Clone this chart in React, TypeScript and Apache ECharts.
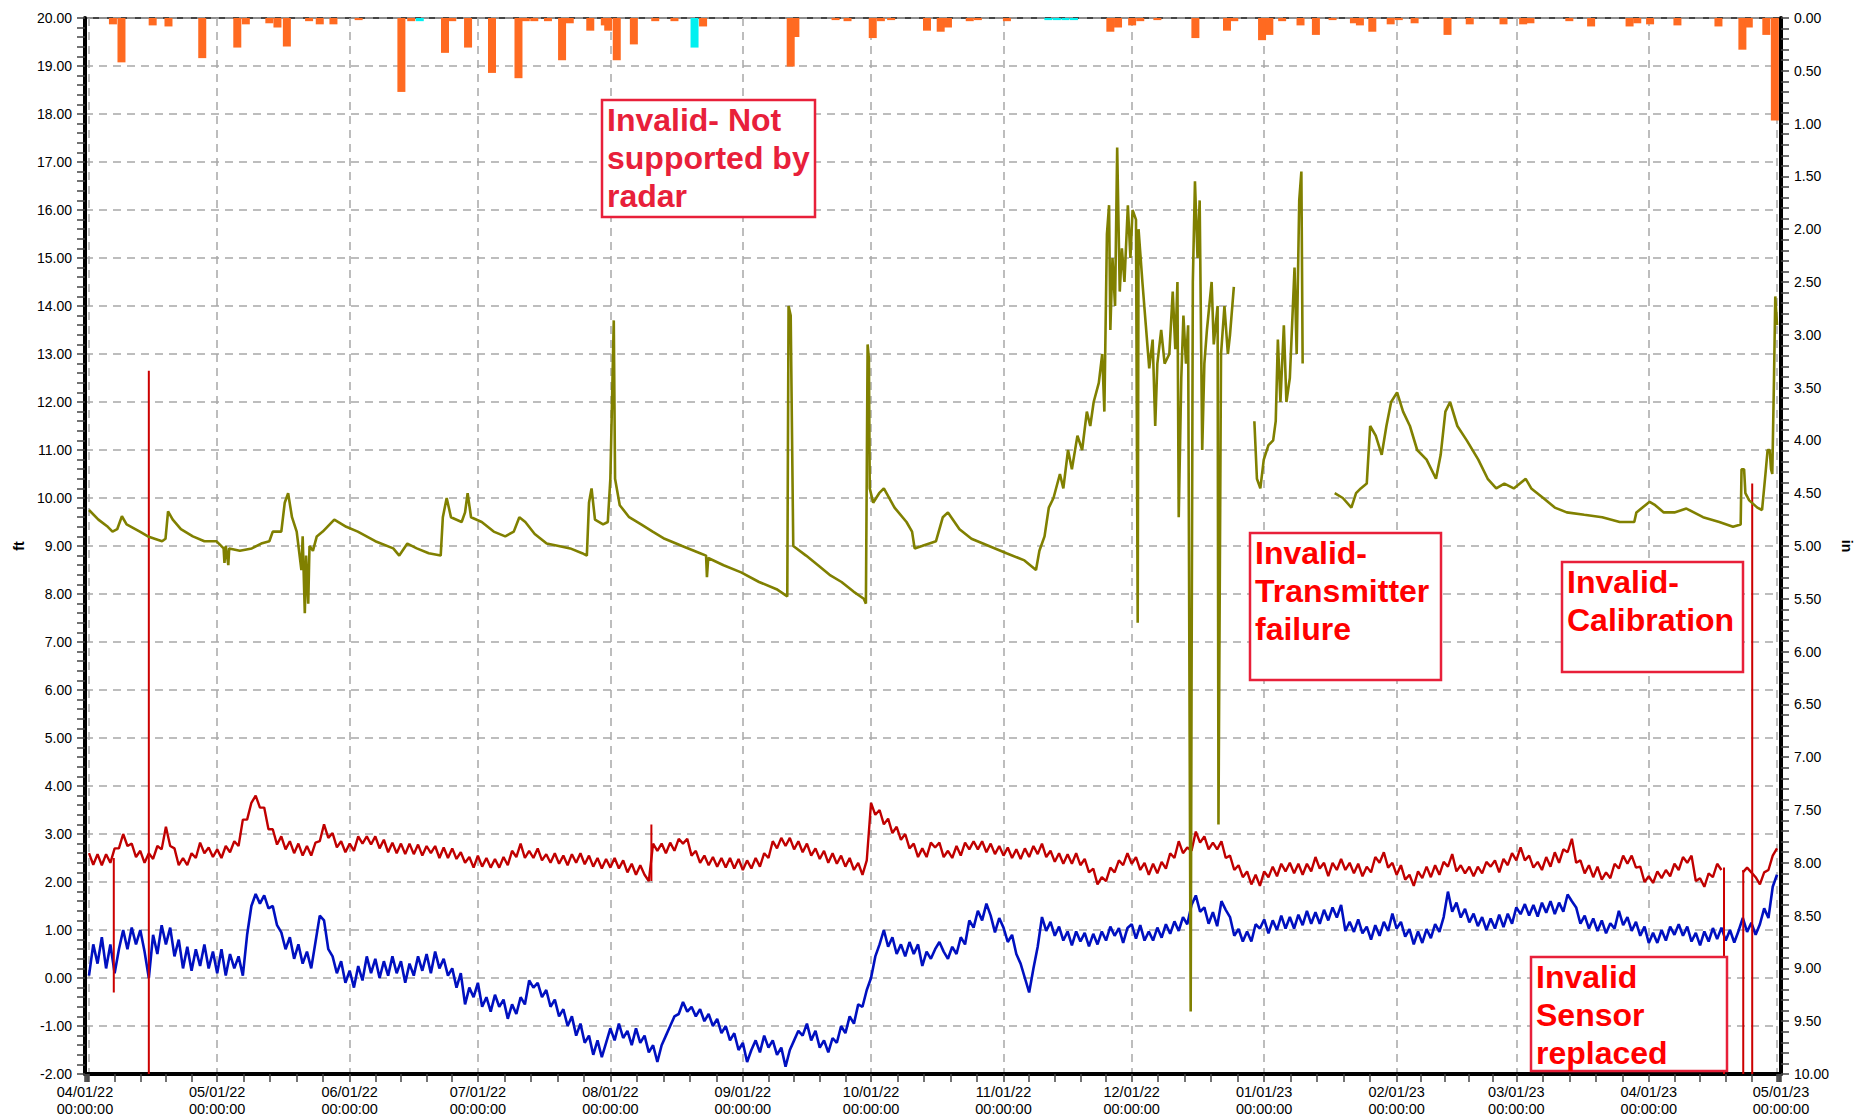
import React, { useEffect, useRef } from "react";
import * as echarts from "echarts";

const START = new Date(2022, 3, 1).getTime();
const END = new Date(2023, 4, 1).getTime();
const DAY = 86400000;
const FONT = "'Liberation Sans', Arial, Helvetica, sans-serif";

const xTickLabels = [
  "04/01/22", "05/01/22", "06/01/22", "07/01/22", "08/01/22", "09/01/22", "10/01/22",
  "11/01/22", "12/01/22", "01/01/23", "02/01/23", "03/01/23", "04/01/23", "05/01/23",
];
const xTickTime = "00:00:00";

// daily values from 04/01/22 (day 0) to 05/01/23 (day 395), ft
const redDaily: (number | null)[] = [
  2.6, 2.36, 2.58, 2.35, 2.58, 2.4, 2.7, 2.7, 3.0, 2.75,
  2.8, 2.52, 2.65, 2.4, 2.6, 2.48, 2.75, 2.68, 3.15, 2.75,
  2.7, 2.35, 2.5, 2.35, 2.6, 2.5, 2.82, 2.6, 2.72, 2.52,
  2.68, 2.5, 2.75, 2.62, 2.85, 2.75, 3.3, 3.3, 3.65, 3.8,
  3.55, 3.55, 3.1, 3.1, 2.78, 2.95, 2.68, 2.85, 2.6, 2.8,
  2.55, 2.75, 2.55, 2.82, 2.85, 3.2, 2.92, 3.02, 2.72, 2.85,
  2.62, 2.8, 2.65, 2.95, 2.8, 2.95, 2.78, 2.95, 2.7, 2.88,
  2.62, 2.82, 2.6, 2.8, 2.58, 2.8, 2.58, 2.78, 2.55, 2.75,
  2.6, 2.75, 2.5, 2.72, 2.5, 2.7, 2.48, 2.62, 2.4, 2.52,
  2.3, 2.55, 2.32, 2.5, 2.3, 2.48, 2.3, 2.52, 2.35, 2.65,
  2.52, 2.8, 2.5, 2.65, 2.5, 2.7, 2.45, 2.58, 2.4, 2.6,
  2.38, 2.55, 2.35, 2.58, 2.4, 2.6, 2.37, 2.55, 2.32, 2.5,
  2.28, 2.48, 2.3, 2.5, 2.28, 2.45, 2.2, 2.38, 2.15, 2.35,
  2.15, 2.02, 2.8, 2.65, 2.8, 2.6, 2.82, 2.65, 2.9, 2.8,
  2.9, 2.55, 2.65, 2.4, 2.55, 2.35, 2.52, 2.32, 2.5, 2.3,
  2.5, 2.28, 2.48, 2.25, 2.45, 2.28, 2.5, 2.32, 2.6, 2.5,
  2.85, 2.7, 2.92, 2.75, 2.92, 2.68, 2.85, 2.62, 2.8, 2.55,
  2.7, 2.48, 2.65, 2.4, 2.6, 2.38, 2.55, 2.32, 2.5, 2.25,
  2.4, 2.15, 2.45, 3.65, 3.4, 3.5, 3.2, 3.32, 3.02, 3.15,
  2.88, 3.0, 2.7, 2.8, 2.52, 2.7, 2.52, 2.82, 2.72, 2.82,
  2.52, 2.65, 2.5, 2.75, 2.55, 2.82, 2.68, 2.85, 2.68, 2.85,
  2.62, 2.8, 2.58, 2.75, 2.55, 2.72, 2.5, 2.68, 2.48, 2.7,
  2.52, 2.75, 2.58, 2.8, 2.52, 2.65, 2.42, 2.6, 2.38, 2.58,
  2.38, 2.6, 2.35, 2.48, 2.2, 2.28, 1.95, 2.1, 2.02, 2.3,
  2.2, 2.45, 2.35, 2.6, 2.38, 2.52, 2.25, 2.4, 2.15, 2.38,
  2.18, 2.42, 2.28, 2.6, 2.5, 2.85, 2.6, 2.72, 2.65, 3.05,
  2.82, 2.95, 2.68, 2.82, 2.68, 2.85, 2.5, 2.55, 2.25, 2.35,
  2.1, 2.22, 1.95, 2.15, 1.92, 2.22, 2.1, 2.32, 2.12, 2.38,
  2.22, 2.4, 2.18, 2.38, 2.15, 2.38, 2.22, 2.52, 2.28, 2.4,
  2.12, 2.4, 2.25, 2.48, 2.25, 2.4, 2.18, 2.38, 2.12, 2.32,
  2.2, 2.52, 2.4, 2.62, 2.3, 2.4, 2.15, 2.35, 2.05, 2.15,
  1.92, 2.22, 2.08, 2.32, 2.1, 2.35, 2.15, 2.42, 2.32, 2.58,
  2.22, 2.35, 2.18, 2.32, 2.12, 2.32, 2.18, 2.42, 2.32, 2.45,
  2.2, 2.48, 2.35, 2.6, 2.45, 2.72, 2.45, 2.55, 2.3, 2.42,
  2.25, 2.52, 2.32, 2.62, 2.4, 2.68, 2.62, 2.9, 2.4, 2.45,
  2.18, 2.35, 2.1, 2.32, 2.05, 2.2, 2.08, 2.38, 2.28, 2.55,
  2.38, 2.55, 2.3, 2.32, 2.0, 2.12, 1.98, 2.22, 2.08, 2.25,
  2.12, 2.38, 2.25, 2.52, 2.4, 2.55, 2.02, 2.08, 1.9, 2.18,
  2.1, 2.38, 2.25, null, null, null, null, 2.2, 2.3, 2.2,
  2.1, 1.95, 2.2, 2.25, 2.55, 2.7,
];

const blueDaily: number[] = [
  0.05, 0.7, 0.3, 0.85, 0.2, 0.7, 0.1, 0.6, 1.0, 0.6,
  1.05, 0.7, 1.0, 0.55, 0.0, 0.9, 0.5, 1.1, 0.7, 1.05,
  0.45, 0.8, 0.2, 0.65, 0.15, 0.6, 0.25, 0.7, 0.2, 0.55,
  0.1, 0.6, 0.05, 0.5, 0.2, 0.45, 0.05, 0.9, 1.5, 1.75,
  1.55, 1.72, 1.45, 1.5, 1.1, 0.95, 0.6, 0.85, 0.4, 0.7,
  0.3, 0.55, 0.2, 0.75, 1.3, 1.2, 0.6, 0.45, 0.1, 0.35,
  -0.1, 0.15, -0.2, 0.25, -0.05, 0.45, 0.1, 0.4, 0.0, 0.35,
  0.05, 0.45, 0.1, 0.35, -0.1, 0.3, 0.05, 0.45, 0.15, 0.5,
  0.1, 0.55, 0.2, 0.4, 0.05, 0.2, -0.2, 0.1, -0.55, -0.2,
  -0.4, -0.1, -0.6, -0.4, -0.7, -0.35, -0.6, -0.45, -0.85, -0.55,
  -0.75, -0.4, -0.55, -0.05, -0.2, -0.1, -0.4, -0.25, -0.6, -0.45,
  -0.8, -0.65, -1.0, -0.8, -1.2, -0.95, -1.35, -1.2, -1.6, -1.3,
  -1.65, -1.35, -1.05, -1.3, -0.95, -1.25, -1.1, -1.4, -1.05, -1.35,
  -1.2, -1.55, -1.4, -1.75, -1.4, -1.2, -1.0, -0.8, -0.75, -0.5,
  -0.7, -0.6, -0.8, -0.65, -0.9, -0.75, -1.0, -0.85, -1.15, -1.0,
  -1.3, -1.15, -1.5, -1.35, -1.75, -1.5, -1.3, -1.55, -1.2, -1.45,
  -1.3, -1.6, -1.45, -1.85, -1.5, -1.3, -1.1, -1.2, -0.95, -1.3,
  -1.1, -1.45, -1.3, -1.55, -1.25, -1.35, -1.0, -1.15, -0.8, -0.95,
  -0.55, -0.6, -0.25, 0.0, 0.45, 0.7, 1.0, 0.65, 0.85, 0.5,
  0.7, 0.45, 0.75, 0.5, 0.7, 0.25, 0.55, 0.4, 0.6, 0.75,
  0.55, 0.4, 0.65, 0.5, 0.85, 0.7, 1.2, 1.05, 1.4, 1.2,
  1.55, 1.3, 0.95, 1.25, 1.05, 0.75, 0.9, 0.5, 0.3, 0.0,
  -0.3, 0.2, 0.65, 1.27, 0.98, 1.17, 0.88, 1.07, 0.78, 0.97,
  0.68, 0.97, 0.76, 0.94, 0.66, 0.92, 0.7, 0.97, 0.78, 1.07,
  0.88, 1.04, 0.73, 1.04, 1.12, 0.82, 1.1, 0.78, 0.97, 0.78,
  1.05, 0.84, 1.12, 0.92, 1.18, 0.98, 1.27, 1.12, 1.52, 1.72,
  1.38, 1.47, 1.13, 1.37, 1.08, 1.6, 1.42, 1.27, 0.88, 1.02,
  0.76, 0.97, 0.76, 1.12, 1.03, 1.22, 0.93, 1.2, 1.0, 1.3,
  1.03, 1.27, 1.03, 1.32, 1.1, 1.4, 1.13, 1.37, 1.13, 1.42,
  1.2, 1.47, 1.26, 1.52, 0.98, 1.17, 0.96, 1.22, 0.93, 1.07,
  0.8, 1.1, 0.88, 1.17, 0.98, 1.34, 1.03, 1.17, 0.86, 1.02,
  0.7, 0.97, 0.73, 1.02, 0.83, 1.12, 0.96, 1.27, 1.8, 1.38,
  1.57, 1.26, 1.44, 1.16, 1.34, 1.08, 1.27, 1.0, 1.24, 1.03,
  1.32, 1.06, 1.34, 1.13, 1.47, 1.33, 1.54, 1.3, 1.52, 1.28,
  1.57, 1.36, 1.6, 1.33, 1.57, 1.38, 1.74, 1.6, 1.47, 1.13,
  1.3, 1.03, 1.24, 0.98, 1.2, 0.93, 1.14, 1.03, 1.4, 1.1,
  1.27, 0.98, 1.17, 0.88, 1.07, 0.73, 0.94, 0.73, 1.0, 0.78,
  1.07, 0.9, 1.12, 0.88, 1.07, 0.76, 0.94, 0.68, 0.97, 0.76,
  1.04, 0.81, 1.05, 0.78, 1.0, 0.74, 0.98, 1.25, 0.96, 1.15,
  0.9, 1.12, 1.45, 1.25, 1.9, 2.15,
];

// vertical jumps of the red record: day, from, to (ft)
const redSpikeDays = [5.8, 14.0, 131.6, 382.6, 387.1, 389.2];
const redSpikeFrom = [2.5, 12.65, 2.02, 2.3, -2, 10.3];
const redSpikeTo = [-0.3, -2, 3.2, -2, 2.25, -2];

// olive record (day, ft); null = gap
const oliveDays = [
  0, 2.2, 4.4, 5.5, 6.6, 7.7, 8.8, 11.9, 13.8, 17.1, 17.9, 18.5, 19.6, 21.5, 24.3, 27, 29.8,
  31.5, 31.7, 32, 32.6, 32.8, 35.3, 38.1, 40.3, 42.2, 43, 45, 45.8, 46.6, 47.5, 48.6, 49.7,
  50, 50.5, 50.8, 51.3, 51.6, 52.4, 53.3, 54.7, 57.4, 60.2, 62.9, 67, 71.2, 72.6, 74.5, 76.7,
  79.5, 82.3, 82.8, 83.7, 84.7, 87.2, 88, 88.6, 89.4, 91.9, 94.7, 97.4, 99.4, 100.7, 102.1,
  104.3, 107.1, 109.9, 112.6, 115.4, 116.5, 117, 117.6, 118.4, 120.3, 121.4, 122, 122.8,
  123.1, 124.2, 126.4, 129.2, 131.9, 134.7, 138.8, 143, 144.4, 144.6, 144.9, 148.5, 152.6,
  156.8, 160.9, 163.4, 163.7, 164.2, 164.8, 167.8, 170.6, 173.3, 176.1, 178.9, 181.3, 181.8,
  182.2, 182.5, 182.7, 183.5, 184.9, 186, 188.5, 191.3, 192.6, 193.2, 194.9, 198.2, 199.8,
  201, 203.7, 206.5, 210.6, 214.7, 218.9, 221.6, 222.4, 223.6, 224.6, 225.7, 227.2, 228,
  229.1, 230, 231.3, 232.4, 233.5, 234.3, 235.1, 236.3, 237.1, 237.6, 238.2, 238.7, 239,
  239.5, 240.1, 240.6, 241.2, 241.7, 242.3, 243.1, 243.7, 244.2, 245, 245.4, 245.6, 246.5,
  247.3, 248.1, 248.9, 249.5, 250, 250.9, 251.7, 252.8, 253.6, 254.2, 254.7, 255, 255.6,
  256.1, 256.7, 257.2, 257.8, 258, 258.3, 258.8, 259.4, 259.9, 260.5, 261, 261.6, 262.7,
  263.2, 264.1, 264.3, 264.9, 265.7, 266.5, 267, 267.9, 268.2,
  272.7, 273.3, 274.1, 274.9, 276, 277.1, 277.7, 278.2, 278.8, 279.6, 280.2, 281, 282.1,
  282.6, 283.2, 283.7, 284, 284.3,
  291.5, 293.4, 295.4, 296.5, 297.6, 299, 299.8, 301.1, 302.5, 303.6, 304.7, 306.1, 307.5,
  309.1, 310.8, 313, 315.2, 316.3, 317.4, 318.5, 320.2, 322.4, 325.1, 327.3, 329.3, 331.2,
  333.4, 336.2, 337.5, 340.3, 343, 345.8, 349.9, 354.1, 358.2, 361.6, 362.1, 365.2, 366.5,
  368.5, 371, 373.8, 377.7, 381.5, 384.7, 386.5, 386.7, 387.3, 387.6, 388.5, 390.4, 391.5,
  392.3, 392.8, 393.3, 393.6, 393.9, 394.3, 394.6, 395,
];
const oliveValues: (number | null)[] = [
  9.75, 9.55, 9.4, 9.3, 9.35, 9.62, 9.45, 9.3, 9.2, 9.1, 9.15, 9.72, 9.55, 9.35, 9.2, 9.1, 9.1,
  8.95, 8.65, 9.0, 8.6, 8.95, 8.9, 8.95, 9.05, 9.1, 9.3, 9.3, 9.9, 10.1, 9.6, 9.3, 8.5,
  9.2, 7.6, 8.8, 7.8, 9.0, 8.9, 9.2, 9.3, 9.55, 9.4, 9.3, 9.1, 8.95, 8.8, 9.05, 8.95,
  8.85, 8.8, 9.6, 10.0, 9.6, 9.5, 9.7, 10.1, 9.6, 9.5, 9.3, 9.2, 9.3, 9.6, 9.5,
  9.25, 9.05, 9.0, 8.95, 8.85, 8.8, 9.9, 10.2, 9.55, 9.45, 9.5, 10.4, 13.7,
  10.4, 9.85, 9.6, 9.45, 9.3, 9.15, 9.0, 8.85, 8.8, 8.35, 8.75, 8.6, 8.45,
  8.25, 8.1, 7.95, 14.0, 13.8, 9.0, 8.8, 8.6, 8.4, 8.25, 8.05, 7.9, 7.8,
  13.2, 12.9, 10.2, 9.9, 10.1, 10.2, 9.8, 9.5, 9.3, 8.95, 9.0, 9.1, 9.6,
  9.7, 9.35, 9.15, 9.0, 8.85, 8.7, 8.5, 8.9, 9.2, 9.8, 10.0, 10.5, 10.2,
  11.0, 10.6, 11.3, 11.0, 11.8, 11.5, 12.0, 12.4, 13.0, 11.8, 15.5, 16.1, 13.5,
  15.0, 14.0, 17.3, 14.3, 15.2, 14.5, 16.1, 15.0, 16.0, 15.8, 7.4, 15.6, 14.5,
  13.6, 12.7, 13.3, 11.5, 12.8, 13.5, 12.8, 13.0, 14.3, 13.1, 14.5, 9.6, 12.5,
  13.8, 12.8, 13.6, -0.7, 6.0, 14.5, 16.6, 15.0, 16.2, 11.0, 12.8, 13.5, 14.5,
  13.2, 14.0, 3.2, 13.0, 14.0, 13.0, 13.4, 14.4, null,
  11.6, 10.4, 10.2, 10.8, 11.1, 11.2, 11.6, 13.3, 12.0, 13.6, 12.0, 12.5, 14.8,
  13.0, 16.2, 16.8, 12.8, null,
  10.1, 10.0, 9.8, 10.1, 10.2, 10.3, 11.5, 11.3, 10.9, 11.5, 12.0, 12.2, 11.8,
  11.5, 11.0, 10.8, 10.4, 10.9, 11.8, 12.0, 11.5, 11.2, 10.8, 10.4, 10.2, 10.3,
  10.2, 10.4, 10.2, 10.0, 9.8, 9.7, 9.65, 9.6, 9.5, 9.5, 9.7, 9.92, 9.85,
  9.7, 9.7, 9.78, 9.6, 9.5, 9.4, 9.45, 10.6, 10.6, 10.1, 9.95, 9.8, 9.75,
  10.5, 11.0, 11.0, 10.6, 10.5, 12.5, 14.2, 13.6,
];

// precipitation (in), bar centre day
const rainDays = [
  5.6, 7.6, 14.9, 18.6, 26.5, 34.7, 36.7, 42.2, 44.1, 46.3, 51.5, 54, 57.2, 63.1, 73.1, 75.4,
  83.3, 85, 88.7, 94.3, 100.5, 102.2, 104.2, 107.4, 110.7, 112.5, 117.3, 120.7, 121.5, 123.5,
  127.5, 132.5, 137, 143.7, 164.2, 165.3, 174.7, 177.5, 183.4, 185.3, 187.7, 196.1, 199.3,
  201, 206.1, 208, 214.8, 239, 240.8, 244.1, 246, 250, 258.9, 266.3, 268, 274.5, 276.2,
  279.2, 283.5, 287.1, 291, 296, 297.4, 300.3, 304.6, 306.5, 310.2, 317.9, 323.1, 331,
  335.6, 337.3, 346.4, 351.5, 360.5, 362.3, 365.3, 371.7, 381.3, 386.9, 388.4, 392.5, 394.5,
];
const rainInches = [
  0.06, 0.42, 0.07, 0.08, 0.38, 0.28, 0.06, 0.05, 0.09, 0.27, 0.03, 0.06, 0.06, 0.02, 0.7, 0.03,
  0.33, 0.03, 0.28, 0.52, 0.57, 0.03, 0.03, 0.03, 0.4, 0.05, 0.12, 0.07, 0.12, 0.4,
  0.25, 0.03, 0.03, 0.08, 0.46, 0.18, 0.02, 0.03, 0.19, 0.03, 0.02, 0.12, 0.13,
  0.09, 0.03, 0.02, 0.03, 0.13, 0.09, 0.07, 0.03, 0.02, 0.19, 0.12, 0.03, 0.21, 0.16,
  0.03, 0.07, 0.16, 0.02, 0.05, 0.07, 0.13, 0.06, 0.02, 0.05, 0.16, 0.06, 0.06,
  0.06, 0.05, 0.03, 0.08, 0.08, 0.05, 0.06, 0.07, 0.08, 0.3, 0.09, 0.16, 0.97,
];
const cyanDays = [77.4, 141.7, 224.5, 226.5, 228.5, 230.5];
const cyanInches = [0.03, 0.28, 0.02, 0.02, 0.02, 0.02];

const annotations = [
  { lines: ["Invalid- Not", "supported by", "radar"], x: 602, y: 100, w: 213, h: 117, color: "#e8203a" },
  { lines: ["Invalid-", "Transmitter", "failure"], x: 1250, y: 533, w: 191, h: 147, color: "#ff0000" },
  { lines: ["Invalid-", "Calibration"], x: 1562, y: 562, w: 181, h: 110, color: "#ff0000" },
  { lines: ["Invalid", "Sensor", "replaced"], x: 1531, y: 957, w: 196, h: 114, color: "#ff0000" },
];

const t = (d: number) => START + d * DAY;

function xLabel(v: any) {
  let n = typeof v === "number" ? v : new Date(v).getTime();
  if (!isFinite(n)) n = START;
  n = Math.min(Math.max(n, START), END);
  const d = new Date(n + 12 * 3600 * 1000);
  const idx = (d.getFullYear() - 2022) * 12 + d.getMonth() - 3;
  const lab = xTickLabels[Math.max(0, Math.min(xTickLabels.length - 1, idx))];
  return lab + "\n" + xTickTime;
}

export default function App() {
  const ref = useRef<HTMLDivElement>(null);
  useEffect(() => {
    if (!ref.current) return;
    const chart = echarts.init(ref.current, null, { renderer: "svg" });

    const redData = redDaily.map((v, i) => [t(i), v]);
    const blueData = blueDaily.map((v, i) => [t(i), v]);
    const oliveData = oliveDays.map((d, i) => [t(d), oliveValues[i]]);
    const spikeData: any[] = [];
    redSpikeDays.forEach((d, i) => {
      spikeData.push([t(d), redSpikeFrom[i]], [t(d), redSpikeTo[i]], [t(d), null]);
    });
    const rainData = rainDays.map((d, i) => [t(d), rainInches[i]]);
    const cyanData = cyanDays.map((d, i) => [t(d), cyanInches[i]]);

    const tickStyle = { color: "#444", width: 1.5 };
    const gridLine = { show: true, lineStyle: { color: "#a8a8a8", type: [8, 6] as any, width: 1.5 } };

    const graphic: any[] = [];
    annotations.forEach((a) => {
      graphic.push({
        type: "rect", z: 100,
        shape: { x: a.x, y: a.y, width: a.w, height: a.h },
        style: { fill: "#ffffff", stroke: "#e8203a", lineWidth: 2.5 },
      });
      graphic.push({
        type: "text", z: 101, x: a.x + 5, y: a.y + 1,
        style: {
          text: a.lines.join("\n"), fill: a.color,
          font: `bold 32px ${FONT}`, lineHeight: 38,
          textVerticalAlign: "top", verticalAlign: "top",
        },
      });
    });

    chart.setOption({
      animation: false,
      backgroundColor: "#ffffff",
      textStyle: { fontFamily: FONT },
      grid: {
        left: 85, right: 77, top: 18, bottom: 43,
        show: true, borderColor: "#444", borderWidth: 2, backgroundColor: "transparent",
        outerBoundsMode: "none",
      },
      xAxis: {
        type: "time", min: START, max: END, splitNumber: 13,
        axisLine: { show: true, onZero: false, lineStyle: { color: "#000", width: 4 } },
        axisTick: { show: true, length: 8, lineStyle: tickStyle },
        minorTick: { show: true, splitNumber: 5, length: 8, lineStyle: tickStyle },
        splitLine: gridLine,
        axisLabel: {
          formatter: xLabel, fontSize: 14.5, color: "#000", lineHeight: 17, margin: 9,
          showMinLabel: true, showMaxLabel: true, hideOverlap: false, fontFamily: FONT,
        },
      },
      yAxis: [
        {
          type: "value", min: -2, max: 20, interval: 1,
          name: "ft", nameLocation: "middle", nameGap: 59,
          nameTextStyle: { fontWeight: "bold", fontSize: 14, color: "#000", fontFamily: FONT },
          axisLine: { show: true, onZero: false, lineStyle: { color: "#000", width: 4 } },
          axisTick: { show: true, length: 8, lineStyle: tickStyle },
          minorTick: { show: true, splitNumber: 5, length: 8, lineStyle: tickStyle },
          splitLine: gridLine,
          axisLabel: { formatter: (v: number) => v.toFixed(2), fontSize: 14, color: "#000", margin: 13, fontFamily: FONT },
        },
        {
          type: "value", min: 0, max: 10, interval: 0.5, inverse: true, position: "right",
          name: "in", nameLocation: "middle", nameGap: 57, nameRotate: -90,
          nameTextStyle: { fontWeight: "bold", fontSize: 14, color: "#000", fontFamily: FONT },
          axisLine: { show: true, onZero: false, lineStyle: { color: "#000", width: 4 } },
          axisTick: { show: true, length: 8, lineStyle: tickStyle },
          minorTick: { show: true, splitNumber: 5, length: 8, lineStyle: tickStyle },
          splitLine: { show: false },
          axisLabel: { formatter: (v: number) => v.toFixed(2), fontSize: 14, color: "#000", margin: 13, fontFamily: FONT },
        },
      ],
      series: [
        {
          name: "Precipitation", type: "bar", yAxisIndex: 1, data: rainData,
          barWidth: 8, barGap: "-100%", itemStyle: { color: "#ff6a21" }, z: 2,
        },
        {
          name: "Precipitation (other)", type: "bar", yAxisIndex: 1, data: cyanData,
          barWidth: 8, barGap: "-100%", itemStyle: { color: "#00f0f0" }, z: 2,
        },
        {
          name: "Blue", type: "line", yAxisIndex: 0, data: blueData, showSymbol: false,
          lineStyle: { color: "#0010c0", width: 2.6 }, z: 3,
        },
        {
          name: "Red", type: "line", yAxisIndex: 0, data: redData, showSymbol: false,
          connectNulls: false, lineStyle: { color: "#c00000", width: 2.4 }, z: 4,
        },
        {
          name: "Red jumps", type: "line", yAxisIndex: 0, data: spikeData, showSymbol: false,
          connectNulls: false, lineStyle: { color: "#cc0000", width: 2 }, z: 4,
        },
        {
          name: "Olive", type: "line", yAxisIndex: 0, data: oliveData, showSymbol: false,
          connectNulls: false, lineStyle: { color: "#808000", width: 2.6 }, z: 5,
        },
      ],
      graphic,
    });
    return () => chart.dispose();
  }, []);
  return (
    <div
      ref={ref}
      style={{ position: "absolute", left: 0, top: 0, width: 1858, height: 1117, background: "#fff" }}
    />
  );
}
